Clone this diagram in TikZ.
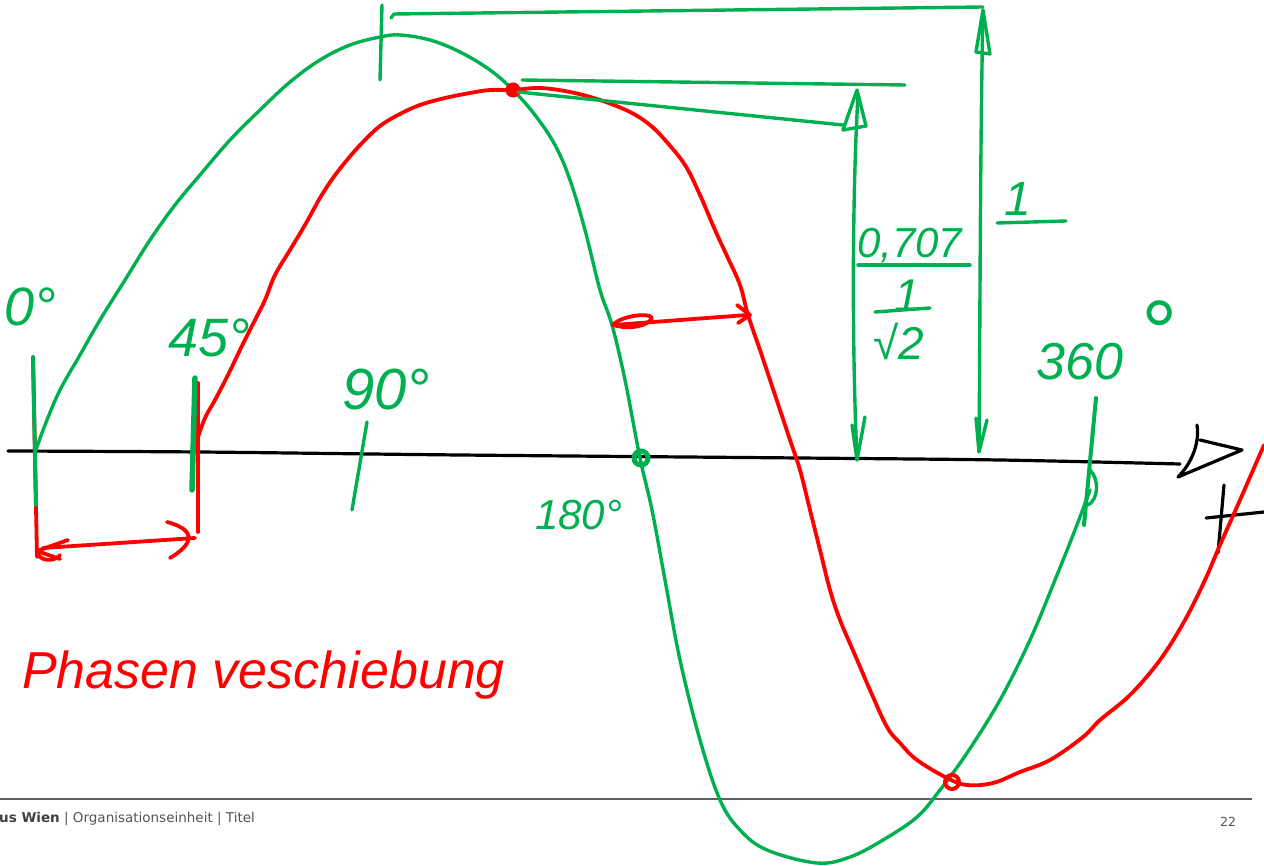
\documentclass[tikz,border=0pt]{standalone}
\usepackage{fontspec}
\setmainfont{Liberation Sans}
\newfontfamily\footfont{DejaVu Sans}
\definecolor{hgreen}{HTML}{00B050}
\definecolor{hred}{HTML}{FF0000}
\definecolor{footgray}{HTML}{555555}
\definecolor{footline}{HTML}{606060}
\begin{document}
\begin{tikzpicture}[x=1pt,y=-1pt,
  gr/.style={draw=hgreen,line width=3.4pt,line cap=round,line join=round},
  grthick/.style={draw=hgreen,line width=5.5pt,line cap=round,line join=round},
  rd/.style={draw=hred,line width=3.8pt,line cap=round,line join=round},
  bk/.style={draw=black,line width=3.2pt,line cap=round,line join=round},
  glab/.style={text=hgreen,inner sep=0pt,font=\itshape},
  rlab/.style={text=hred,inner sep=0pt,font=\itshape},
  foot/.style={text=footgray,inner sep=0pt,font=\footfont\fontsize{13.5}{16}\selectfont},
]
\useasboundingbox (0,0) rectangle (1264,866);
\fill[white] (0,0) rectangle (1264,866);

% footer
\draw[footline,line width=1.6pt] (0,799) -- (1252,799);
\node[foot,anchor=west] (footer) at (-1,819) {\textbf{\color{black!75}us Wien} | Organisationseinheit | Titel};
\node[foot,font=\footfont\fontsize{12.5}{15}\selectfont] (page) at (1228,822) {22};

% axis
\draw[bk] plot[smooth] coordinates {(8,451) (200,452) (460,455) (800,458) (1000,460) (1180,464)};
\draw[bk] (1197,425) .. controls (1200,445) and (1190,465) .. (1178,477) -- (1242,450) -- (1200,440);
\draw[bk] (1224,485) -- (1218,553);
\draw[bk] (1206,518) -- (1264,512);

% green curve
\draw[gr] plot[smooth,tension=0.6] coordinates {(36,450) (45,425) (60,390) (80,355) (100,320) (125,280) (150,240) (175,205) (200,175) (230,140) (260,110) (290,82) (320,60) (350,45) (380,37) (400,35) (430,40) (460,52) (490,70) (513,90) (535,115) (555,145) (570,180) (585,230) (600,290) (612,325) (625,380) (640,458) (652,510) (665,580) (680,660) (700,740) (720,800) (740,830) (767,850) (817,863) (850,857) (883,840) (917,817) (940,790) (967,753) (1000,700) (1030,640) (1055,580) (1075,530) (1090,490)};

% red curve
\draw[rd] plot[smooth,tension=0.6] coordinates {(197,440) (205,418) (215,400) (228,375) (240,350) (255,320) (265,300) (275,275) (290,250) (305,225) (320,198) (333,178) (347,160) (362,143) (380,126) (400,114) (420,105) (445,98) (470,93) (490,90) (513,90) (540,88) (570,92) (600,100) (630,112) (650,125) (665,140) (685,165) (700,195) (715,230) (727,256) (740,285) (748,315) (760,350) (770,380) (780,410) (790,440) (800,470) (810,510) (820,550) (830,590) (840,620) (855,655) (870,690) (887,727) (900,743) (917,760) (947,778) (967,785) (993,783) (1020,772) (1050,760) (1083,737) (1100,720) (1130,695) (1160,660) (1185,620) (1205,580) (1220,545) (1240,500) (1264,445)};

% 0 deg tick and phase bracket
\draw[rd] (33,357) -- (37,557);
\draw[grthick,line width=4pt] (33,357) -- (36,505);
\draw[rd] (198,383) -- (198,532);
\draw[grthick] (195,378) -- (192,490);
\draw[rd] (43,548) -- (195,538);
\draw[rd] (167,522) .. controls (190,528) and (200,540) .. (170,558);
\draw[rd] (68,540) -- (37,551) -- (60,559);
\draw[rd] (37,551) .. controls (38,562) and (55,562) .. (60,555);

% 90 deg tick
\draw[gr] (367,422) -- (352,510);
% 360 deg tick
\draw[grthick,line width=4pt] (1096,398) -- (1084,525);
\draw[gr] (1090,470) .. controls (1100,480) and (1098,500) .. (1088,505);

% 180 deg point
\draw[hgreen,line width=5pt] (641,458) circle (7);

% peak point and 0.707 construction
\fill[hred] (513,90) circle (7.5);
\draw[gr] (522,80) -- (905,85);
\draw[gr] (518,92) -- (843,125);
\draw[gr] (858,95) .. controls (852,200) and (852,350) .. (857,460);
\draw[gr] (857,90) -- (843,130) -- (866,126) -- cycle;
\draw[gr] (852,425) -- (857,460) -- (865,417);

% top construction for 1
\draw[gr] (382,5) -- (380,80);
\draw[gr] (391,18) -- (394,14) -- (983,7);
\draw[gr] (983,10) .. controls (980,150) and (980,350) .. (979,452);
\draw[gr] (983,10) -- (976,52) -- (990,54) -- cycle;
\draw[gr] (976,418) -- (979,452) -- (987,420);

% middle phase arrow
\draw[rd] (613,325) -- (747,315);
\draw[rd] (737,305) -- (750,315) -- (738,323);
\draw[rd] (613,325) .. controls (620,316) and (650,312) .. (652,318) .. controls (648,326) and (630,330) .. (613,325);

% bottom point
\draw[hred,line width=4pt] (952,782) circle (7);

% labels
\node[glab,font=\itshape\fontsize{54}{54}\selectfont,anchor=south west] (l0) at (4,326) {0°};
\node[glab,font=\itshape\fontsize{54}{54}\selectfont,anchor=south west] (l45) at (168,357) {45°};
\node[glab,font=\itshape\fontsize{58}{58}\selectfont,anchor=south west] (l90) at (342,410) {90°};
\node[glab,font=\itshape\fontsize{42}{42}\selectfont,anchor=south west] (l180) at (535,530) {180°};
\node[glab,font=\itshape\fontsize{52}{52}\selectfont,anchor=south west] (l360) at (1036,380) {360};
\node[glab,font=\itshape\fontsize{90}{90}\selectfont,anchor=north west] (l360deg) at (1138,300) {°};
\node[glab,font=\itshape\fontsize{42}{42}\selectfont,anchor=south west] (l707) at (857,263) {0,707};
\draw[gr] (858,265) -- (970,265);
\node[glab,font=\itshape\fontsize{46}{46}\selectfont,anchor=south] (lone) at (907,312) {1};
\draw[gr] (875,312) -- (930,308);
\node[glab,font=\itshape\fontsize{46}{46}\selectfont,anchor=south] (lsqrt) at (899,360) {√2};
\node[glab,font=\itshape\fontsize{48}{48}\selectfont,anchor=south] (lone2) at (1018,216) {1};
\draw[gr] (997,223) -- (1066,221);
\node[rlab,font=\itshape\fontsize{52}{52}\selectfont,anchor=base west] (phase) at (22,688) {Phasen veschiebung};
\end{tikzpicture}
\end{document}
